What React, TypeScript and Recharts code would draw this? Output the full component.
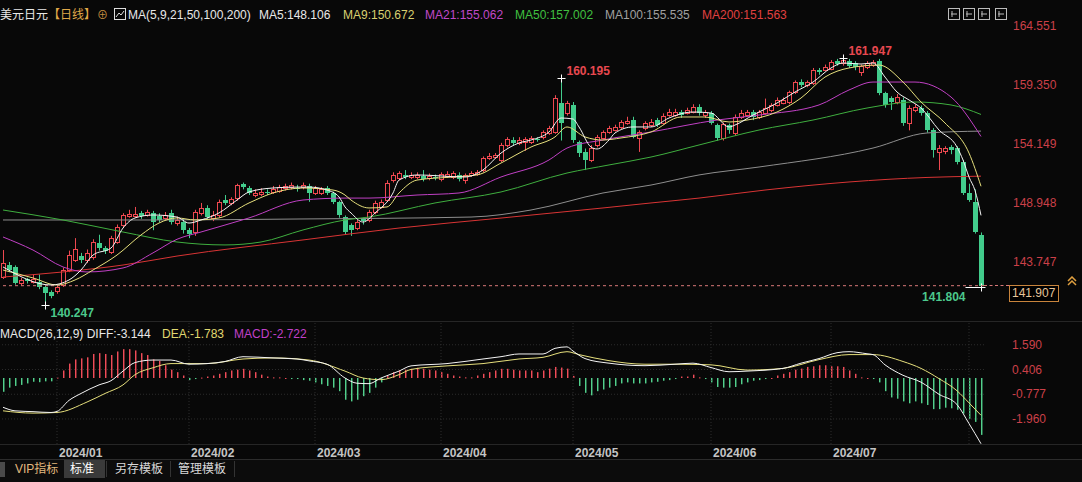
import React from 'react';
import { ComposedChart, Bar, Line, XAxis, YAxis, ReferenceLine } from 'recharts';

// USD/JPY daily candles, 2023/12/19 .. 2024/08/05 : [open, high, low, close]
const candles: number[][] = [
  [142.67, 145.05, 142.5, 143.91], [143.73, 144.0, 143.1, 143.29], [143.55, 143.7, 142.0, 142.14], [142.14, 142.6, 141.9, 142.41], [142.5, 142.6, 142.1, 142.3],
  [142.23, 142.9, 142.1, 142.5], [142.23, 142.9, 141.6, 141.8], [141.8, 141.9, 140.247, 141.26], [141.35, 141.5, 140.8, 141.0], [141.44, 141.9, 141.2, 141.8],
  [141.97, 143.5, 141.8, 143.29], [143.29, 145.0, 143.1, 144.6], [144.2, 146.1, 144.0, 145.1], [144.5, 144.8, 143.9, 144.17], [144.17, 145.1, 143.9, 144.8],
  [144.4, 146.0, 144.2, 145.76], [145.67, 146.4, 145.0, 145.23], [145.23, 145.4, 144.7, 144.97], [144.88, 146.3, 144.7, 146.1], [145.76, 147.3, 145.6, 147.08],
  [147.26, 148.3, 147.0, 148.14], [148.05, 148.6, 147.9, 148.23], [148.05, 148.85, 147.9, 148.23], [148.3, 148.5, 147.8, 148.05], [148.14, 148.6, 148.0, 148.4],
  [148.3, 148.5, 146.8, 147.52], [148.05, 148.3, 147.5, 147.7], [147.9, 148.4, 147.7, 148.14], [148.3, 148.6, 147.3, 147.52], [147.43, 148.0, 147.2, 147.7],
  [147.52, 147.8, 146.5, 146.82], [146.82, 147.0, 146.1, 146.46], [146.64, 148.6, 146.3, 148.4], [148.3, 149.2, 148.1, 148.76], [148.76, 149.0, 147.8, 147.96],
  [147.87, 148.5, 147.6, 148.14], [148.14, 149.5, 147.9, 149.28], [149.46, 149.9, 149.0, 149.2], [149.2, 149.7, 149.0, 149.55], [149.64, 150.9, 149.4, 150.78],
  [150.87, 151.0, 150.4, 150.6], [150.52, 150.7, 149.9, 150.08], [149.9, 150.4, 149.7, 150.08], [149.99, 150.5, 149.8, 150.17], [150.17, 150.4, 149.9, 150.1],
  [150.17, 150.7, 150.0, 150.43], [150.26, 150.8, 150.1, 150.6], [150.52, 150.9, 150.3, 150.7], [150.6, 151.0, 150.4, 150.78], [150.52, 150.8, 150.2, 150.5],
  [150.6, 151.0, 150.4, 150.78], [150.7, 150.9, 149.3, 150.08], [150.08, 150.7, 149.9, 150.52], [150.08, 150.6, 149.9, 150.43], [150.52, 150.7, 149.9, 150.08],
  [150.08, 150.2, 149.1, 149.28], [149.28, 149.4, 147.9, 148.14], [147.96, 148.1, 146.4, 146.64], [147.26, 147.4, 146.3, 146.82], [146.99, 147.7, 146.8, 147.52],
  [147.79, 147.9, 147.3, 147.6], [147.7, 148.6, 147.5, 148.4], [148.4, 149.4, 148.2, 149.2], [148.85, 149.5, 148.7, 149.28], [149.46, 151.2, 149.3, 150.96],
  [151.2, 151.9, 151.0, 151.66], [151.4, 152.0, 151.2, 151.84], [151.66, 152.1, 151.3, 151.5], [151.5, 151.9, 151.3, 151.66], [151.5, 151.9, 151.3, 151.66],
  [151.57, 152.1, 151.1, 151.3], [151.4, 151.8, 151.2, 151.57], [151.5, 151.7, 151.2, 151.48], [151.3, 151.9, 151.1, 151.75], [151.57, 152.0, 151.4, 151.75],
  [151.5, 152.0, 151.3, 151.84], [151.66, 151.9, 151.1, 151.3], [151.2, 151.8, 150.9, 151.66], [151.66, 152.0, 151.5, 151.84], [151.75, 152.1, 151.6, 151.93],
  [152.1, 153.3, 151.9, 153.16], [153.16, 153.6, 153.0, 153.34], [153.25, 153.6, 153.1, 153.43], [152.99, 154.5, 152.8, 154.31], [154.31, 155.0, 154.1, 154.84],
  [154.75, 155.0, 154.3, 154.49], [154.49, 155.0, 154.3, 154.75], [154.57, 155.0, 153.8, 154.84], [154.57, 155.1, 154.4, 154.93], [154.84, 155.0, 154.6, 154.75],
  [155.02, 155.6, 154.8, 155.46], [155.37, 156.0, 155.2, 155.81], [155.46, 158.7, 155.3, 158.45], [158.0, 160.195, 154.7, 156.25], [157.13, 158.2, 156.9, 158.0],
  [157.8, 158.1, 154.5, 154.75], [154.57, 154.7, 153.25, 153.6], [153.69, 154.0, 152.1, 152.99], [152.99, 154.3, 152.8, 154.04], [154.3, 155.2, 154.1, 155.0],
  [154.93, 155.6, 154.8, 155.46], [155.46, 156.0, 155.3, 155.81], [155.63, 156.1, 155.5, 155.9], [155.9, 156.5, 155.7, 156.34], [156.25, 156.8, 156.1, 156.43],
  [156.51, 156.8, 154.9, 155.02], [154.93, 155.6, 153.7, 155.46], [155.81, 156.4, 155.6, 156.25], [156.07, 156.6, 155.9, 156.34], [156.51, 156.7, 155.9, 156.07],
  [156.25, 157.1, 156.1, 156.87], [156.95, 157.5, 156.8, 157.22], [156.95, 157.5, 156.8, 157.22], [157.22, 157.4, 156.7, 156.95], [157.13, 157.6, 157.0, 157.4],
  [157.22, 157.9, 157.1, 157.66], [157.66, 157.9, 156.9, 157.13], [156.95, 157.4, 156.7, 157.22], [157.13, 157.3, 156.1, 156.25], [156.07, 156.2, 154.7, 154.93],
  [154.93, 156.3, 154.7, 156.16], [156.07, 156.2, 155.3, 155.63], [155.37, 157.0, 155.1, 156.78], [156.78, 157.4, 156.6, 157.13], [156.95, 157.4, 156.8, 157.22],
  [157.22, 157.4, 156.5, 156.78], [156.78, 157.4, 156.6, 157.22], [157.13, 158.4, 157.0, 157.57], [157.4, 158.0, 157.2, 157.84], [157.84, 158.5, 157.7, 158.28],
  [158.01, 158.5, 157.9, 158.28], [158.1, 159.1, 157.9, 158.98], [158.98, 160.0, 158.8, 159.86], [159.86, 160.1, 159.4, 159.6], [159.6, 160.0, 159.4, 159.86],
  [159.77, 161.1, 159.6, 160.92], [160.92, 161.1, 160.5, 160.74], [160.92, 161.4, 160.8, 161.19], [161.01, 161.8, 160.9, 161.63], [161.72, 161.9, 161.3, 161.45],
  [161.54, 161.947, 161.3, 161.8], [161.72, 161.9, 161.1, 161.27], [161.54, 161.7, 160.9, 161.19], [160.74, 161.4, 160.4, 161.27], [161.19, 161.7, 161.0, 161.54],
  [161.36, 161.8, 161.2, 161.63], [161.72, 161.9, 158.7, 158.89], [158.89, 159.0, 157.6, 157.84], [158.45, 158.6, 157.4, 158.1], [158.1, 158.8, 157.9, 158.54],
  [158.28, 158.5, 156.0, 156.25], [156.25, 157.8, 155.6, 157.57], [157.4, 157.9, 157.2, 157.66], [157.57, 157.8, 156.9, 157.13], [157.13, 157.3, 155.4, 155.63],
  [155.63, 155.8, 153.2, 153.87], [153.69, 154.3, 152.1, 154.04], [153.78, 154.2, 153.5, 154.04], [154.1, 154.3, 153.5, 153.87], [154.04, 154.2, 152.6, 152.81],
  [152.81, 153.0, 149.9, 150.08], [150.08, 150.9, 149.3, 149.46], [149.28, 150.4, 146.5, 146.64], [146.38, 146.6, 141.804, 141.907],
];

// moving averages: [candle index, value]
const ma5Pts = [[0, 143.56], [8, 141.97], [11, 142.41], [13, 143.29], [15, 144.61], [18, 145.23], [20, 146.99], [22, 147.88], [25, 148.14], [29, 147.96], [31, 147.43], [33, 147.7], [36, 148.32], [39, 149.46], [41, 150.17], [45, 150.52], [49, 150.6], [51, 150.6], [54, 150.34], [56, 149.73], [57, 148.85], [58, 148.32], [60, 147.52], [62, 148.32], [65, 150.08], [66, 151.22], [69, 151.67], [77, 151.49], [80, 152.11], [83, 153.6], [86, 154.49], [88, 154.75], [91, 155.46], [93, 156.69], [95, 156.6], [96, 155.9], [98, 154.13], [99, 153.96], [101, 154.75], [102, 155.37], [105, 155.9], [108, 155.9], [111, 156.69], [115, 157.22], [118, 157.13], [121, 155.9], [122, 156.07], [125, 156.95], [129, 158.01], [132, 158.98], [135, 159.86], [138, 161.1], [140, 161.54], [143, 161.45], [145, 161.54], [147, 160.3], [149, 158.98], [151, 158.28], [153, 157.57], [156, 155.63], [159, 154.13], [160, 152.99], [161, 151.49], [162, 150.3], [163, 148.106]];
const ma9Pts = [[0, 143.29], [5, 142.59], [9, 141.97], [12, 142.41], [15, 143.29], [19, 144.61], [23, 146.38], [26, 147.43], [29, 147.88], [32, 147.7], [36, 147.88], [41, 149.2], [45, 150.08], [50, 150.52], [55, 150.34], [57, 149.9], [58, 149.46], [61, 148.76], [64, 148.85], [66, 150.08], [69, 151.22], [75, 151.49], [79, 151.67], [83, 152.72], [88, 154.13], [92, 155.02], [94, 155.9], [97, 155.02], [100, 154.75], [103, 154.93], [108, 155.46], [113, 156.78], [117, 156.78], [121, 156.34], [124, 156.51], [129, 157.22], [133, 158.45], [137, 160.3], [141, 161.1], [146, 161.36], [150, 159.86], [153, 158.1], [157, 156.25], [161, 153.6], [163, 150.672]];
const ma21Pts = [[0, 146.2], [5, 145.05], [10, 143.56], [14, 143.12], [20, 143.47], [25, 144.8], [29, 146.0], [33, 146.64], [41, 147.88], [50, 149.46], [57, 149.63], [61, 149.63], [69, 149.9], [76, 150.08], [83, 151.49], [91, 152.99], [94, 154.04], [100, 154.75], [108, 155.46], [119, 156.51], [126, 156.95], [136, 157.84], [141, 159.16], [145, 159.86], [152, 159.86], [158, 158.54], [163, 155.062]];
const ma50Pts = [[0, 148.58], [10, 147.7], [20, 146.64], [29, 145.76], [37, 145.5], [43, 145.76], [50, 146.82], [57, 147.7], [61, 147.96], [72, 149.2], [83, 150.17], [94, 151.84], [101, 152.55], [108, 153.25], [116, 154.31], [126, 155.63], [135, 156.51], [144, 157.57], [152, 158.1], [158, 157.84], [163, 157.002]];
const ma100Pts = [[0, 147.7], [25, 147.7], [50, 147.79], [78, 147.96], [88, 148.58], [100, 150.08], [108, 150.78], [116, 151.67], [126, 152.37], [145, 154.04], [154, 155.37], [163, 155.535]];
const ma200Pts = [[0, 142.67], [10, 143.12], [20, 143.73], [29, 144.52], [50, 145.94], [66, 146.99], [83, 147.87], [100, 148.76], [108, 149.2], [116, 149.63], [127, 150.34], [141, 151.05], [154, 151.45], [163, 151.563]];

// MACD(26,12,9)
const macdHist = [
  -0.66, -0.46, -0.38, -0.33, -0.26, -0.18, -0.2, -0.16, -0.16, 0.02,
  0.36, 0.69, 0.89, 0.94, 0.99, 1.15, 1.19, 1.15, 1.1, 1.27,
  1.38, 1.38, 1.32, 1.19, 1.1, 0.89, 0.82, 0.61, 0.4, 0.28,
  0.12, -0.1, -0.05, 0.02, 0.07, 0.12, 0.2, 0.28, 0.36, 0.4,
  0.44, 0.36, 0.28, 0.16, 0.07, 0.03, 0.03, 0.0, -0.05, -0.05,
  -0.1, -0.13, -0.21, -0.3, -0.38, -0.46, -0.63, -1.04, -1.12, -1.04,
  -0.87, -0.71, -0.46, -0.21, 0.12, 0.28, 0.36, 0.4, 0.44, 0.49,
  0.44, 0.4, 0.36, 0.28, 0.2, 0.12, 0.07, 0.03, 0.03, 0.12,
  0.2, 0.28, 0.36, 0.44, 0.44, 0.4, 0.36, 0.36, 0.36, 0.28,
  0.36, 0.45, 0.53, 0.5, 0.45, 0.1, -0.38, -0.71, -0.83, -0.63,
  -0.55, -0.46, -0.38, -0.26, -0.21, -0.26, -0.26, -0.26, -0.21, -0.18,
  -0.13, -0.1, -0.05, 0.07, 0.07, 0.16, 0.03, -0.05, -0.21, -0.43,
  -0.46, -0.46, -0.43, -0.3, -0.21, -0.13, -0.1, -0.05, 0.0, 0.12,
  0.2, 0.28, 0.4, 0.45, 0.53, 0.56, 0.61, 0.61, 0.56, 0.56,
  0.53, 0.36, 0.2, 0.03, 0.0, -0.05, -0.21, -0.63, -0.93, -0.99,
  -1.12, -1.21, -1.12, -1.21, -1.29, -1.49, -1.49, -1.42, -1.45, -1.52,
  -1.7, -1.95, -2.1, -2.722,
];
const diffPts = [[0, -1.4], [2, -1.57], [5, -1.61], [8, -1.65], [9, -1.6], [11, -1.07], [13, -0.74], [16, -0.33], [18, -0.13], [20, 0.33], [22, 0.74], [25, 0.86], [28, 0.86], [31, 0.66], [34, 0.69], [37, 0.79], [40, 1.02], [45, 0.96], [49, 0.91], [51, 0.82], [54, 0.66], [57, 0.0], [59, -0.25], [61, -0.27], [63, 0.0], [66, 0.33], [68, 0.58], [74, 0.69], [80, 0.91], [83, 1.02], [86, 1.15], [90, 1.15], [92, 1.42], [94, 1.49], [95, 1.29], [97, 0.93], [101, 0.71], [107, 0.59], [112, 0.66], [115, 0.71], [118, 0.5], [121, 0.3], [124, 0.33], [130, 0.46], [133, 0.71], [136, 0.93], [139, 1.21], [141, 1.26], [144, 1.16], [145, 1.12], [147, 0.63], [150, 0.13], [153, -0.2], [156, -0.78], [159, -1.27], [161, -2.18], [163, -3.144]];
const deaPts = [[0, -1.57], [5, -1.68], [9, -1.65], [14, -1.15], [17, -0.74], [20, -0.33], [22, 0.16], [25, 0.49], [28, 0.69], [34, 0.69], [40, 0.91], [45, 0.96], [51, 0.86], [57, 0.33], [60, 0.0], [63, -0.08], [66, 0.16], [68, 0.41], [74, 0.58], [80, 0.69], [86, 0.91], [90, 0.99], [94, 1.26], [96, 1.12], [101, 0.83], [107, 0.66], [112, 0.66], [118, 0.63], [124, 0.38], [130, 0.46], [136, 0.88], [141, 1.12], [145, 1.12], [150, 0.79], [153, 0.46], [156, -0.03], [159, -0.61], [161, -1.19], [163, -1.783]];

// marked extremes
const extremes = [
  { i: 7, kind: 'low', value: 140.247 },
  { i: 93, kind: 'high', value: 160.195 },
  { i: 140, kind: 'high', value: 161.947 },
  { i: 163, kind: 'low', value: 141.804 },
];

const monthIdx = [9, 31, 52, 73, 95, 118, 138];
const monthLabels = ['2024/01', '2024/02', '2024/03', '2024/04', '2024/05', '2024/06', '2024/07'];
const monthGrid = [9, 31, 52, 73, 95, 118, 138, 161];

const priceTicks = [164.551, 159.35, 154.149, 148.948, 143.747];
const macdTicks = [1.59, 0.406, -0.777, -1.96];
const lastPrice = 141.907;

const FONT = '"Liberation Sans", Arial, "Noto Sans CJK SC", sans-serif';
const BG = '#080808';
const UP = '#ee4850';
const DOWN = '#42cc8c';
const HIST_UP = '#f04c58';
const HIST_DOWN = '#52d08c';
const AXIS_TXT = '#cc4048';

const toMap = (pts: number[][]) => new Map(pts.map(([k, v]) => [k, v] as [number, number]));
const m5 = toMap(ma5Pts), m9 = toMap(ma9Pts), m21 = toMap(ma21Pts), m50 = toMap(ma50Pts), m100 = toMap(ma100Pts), m200 = toMap(ma200Pts);
const mDiff = toMap(diffPts), mDea = toMap(deaPts);

const rows = candles.map(([o, h, l, c], i) => ({
  i, o, h, l, c,
  ma5: m5.get(i) ?? null,
  ma9: m9.get(i) ?? null,
  ma21: m21.get(i) ?? null,
  ma50: m50.get(i) ?? null,
  ma100: m100.get(i) ?? null,
  ma200: m200.get(i) ?? null,
  hist: macdHist[i],
  diff: mDiff.get(i) ?? null,
  dea: mDea.get(i) ?? null,
  note: extremes.find((e) => e.i === i) ?? null,
}));

const lastOf = (pts: number[][]) => pts[pts.length - 1][1].toFixed(3);

function Candle(props: any) {
  const { x, y, width, height, payload } = props;
  if (x == null || y == null || !payload) return null;
  const { o, h, l, c, note } = payload;
  const cx = Math.floor(x + width / 2) + 0.5;
  const k = h > l ? height / (h - l) : 0;
  const py = (v: number) => y + (h - v) * k;
  const up = c >= o;
  const yh = py(h), yl = py(l);
  const t = Math.round(py(Math.max(o, c)));
  const b = Math.max(Math.round(py(Math.min(o, c))), t + 1);
  const parts: any[] = [];
  if (up) {
    parts.push(<line key="w1" x1={cx} x2={cx} y1={yh} y2={t + 0.5} stroke={UP} />);
    parts.push(<line key="w2" x1={cx} x2={cx} y1={b + 0.5} y2={yl} stroke={UP} />);
    parts.push(<rect key="b" x={cx - 2} y={t + 0.5} width={4} height={b - t} fill={BG} stroke={UP} />);
  } else {
    parts.push(<line key="w" x1={cx} x2={cx} y1={yh} y2={yl} stroke={DOWN} />);
    parts.push(<rect key="b" x={cx - 2.5} y={t} width={5} height={Math.max(b - t, 1)} fill={DOWN} />);
  }
  if (note) {
    const ny = Math.round(py(note.value)) + 0.5;
    const high = note.kind === 'high';
    const atEnd = payload.i > rows.length - 10;
    parts.push(<line key="n1" x1={atEnd ? cx - 16 : cx - 4} x2={cx + 4} y1={ny} y2={ny} stroke="#fff" />);
    parts.push(<line key="n2" x1={cx} x2={cx} y1={ny - 4} y2={ny + 4} stroke="#fff" />);
    parts.push(
      <text key="nt" x={atEnd ? cx - 16 : cx + 5} y={high ? ny - 4 : ny + (atEnd ? 13 : 11)}
        textAnchor={atEnd ? 'end' : 'start'} fill={high ? '#e84850' : '#4cc88c'}
        fontSize={12} fontWeight="bold" fontFamily={FONT}>{note.value.toFixed(3)}</text>
    );
  }
  return <g>{parts}</g>;
}

function HistBar(props: any) {
  const { x, y, width, height, payload, value } = props;
  if (x == null || y == null) return null;
  const v = typeof payload?.hist === 'number' ? payload.hist : Number(value);
  const px = Math.floor(x + width / 2);
  const y1 = Math.min(y, y + height);
  const hh = Math.max(Math.abs(height), 1);
  const col = v >= 0 ? HIST_UP : HIST_DOWN;
  return (
    <g>
      <rect x={px} y={y1} width={1} height={hh} fill={col} />
      <rect x={px + 1} y={y1} width={1} height={hh} fill={col} fillOpacity={0.45} />
    </g>
  );
}

const PriceTick = (p: any) => (
  <text x={1013} y={p.y + 1} fill={AXIS_TXT} fontSize={12} fontFamily={FONT}>{Number(p.payload.value).toFixed(3)}</text>
);
const MacdTick = (p: any) => (
  <text x={1012} y={p.y + 4} fill={AXIS_TXT} fontSize={12} fontFamily={FONT}>{Number(p.payload.value).toFixed(3)}</text>
);
const MonthTick = (p: any) => (
  <text x={p.x + 2} y={135} fill="#c4c4c4" fontSize={12} fontWeight="bold" fontFamily={FONT}>
    {monthLabels[monthIdx.indexOf(p.payload.value)]}
  </text>
);

const maLine = (key: string, color: string) => (
  <Line key={key} dataKey={key} type="monotone" stroke={color} strokeWidth={1} dot={false}
    connectNulls isAnimationActive={false} activeDot={false} />
);

const txt = (left: number, top: number, color: string, s: string, extra: any = {}) => (
  <span style={{ position: 'absolute', left, top, color, fontSize: 12, lineHeight: '16px', whiteSpace: 'nowrap', ...extra }}>{s}</span>
);

export default function App() {
  return (
    <div style={{ position: 'fixed', left: 0, top: 0, width: 1082, height: 482, background: BG, overflow: 'hidden', fontFamily: FONT }}>
      <div style={{ position: 'absolute', left: 0, top: 0 }}>
        <ComposedChart width={1082} height={322} data={rows} margin={{ top: 0, right: 0, bottom: 0, left: 0 }}>
          <XAxis dataKey="i" hide />
          <YAxis orientation="right" width={98} domain={[138.707, 167.092]} ticks={priceTicks} allowDataOverflow
            axisLine={false} tickLine={false} tick={PriceTick} />
          <ReferenceLine y={lastPrice} stroke="#d87878" strokeDasharray="3 3" />
          <Bar dataKey={(d: any) => [d.l, d.h]} barSize={5} shape={(p: any) => <Candle {...p} />} isAnimationActive={false} />
          {maLine('ma200', '#d83434')}
          {maLine('ma100', '#8e8e8e')}
          {maLine('ma50', '#3fae3f')}
          {maLine('ma21', '#c040c4')}
          {maLine('ma9', '#e6df7c')}
          {maLine('ma5', '#f4f4f4')}
        </ComposedChart>
      </div>

      <div style={{ position: 'absolute', left: 0, top: 322 }}>
        <ComposedChart width={1082} height={140} data={rows} margin={{ top: 0, right: 0, bottom: 0, left: 0 }}>
          <XAxis dataKey="i" ticks={monthIdx} interval={0} height={18} axisLine={false} tickLine={false} tick={MonthTick} />
          <YAxis orientation="right" width={98} domain={[-3.158, 2.68]} ticks={macdTicks} allowDataOverflow
            axisLine={false} tickLine={false} tick={MacdTick} />
          {macdTicks.map((t) => <ReferenceLine key={'h' + t} y={t} stroke="#2c2c2c" strokeDasharray="1 2" />)}
          {monthGrid.map((m) => <ReferenceLine key={'v' + m} x={m} stroke="#2c2c2c" strokeDasharray="1 2" />)}
          <Bar dataKey="hist" barSize={1} fill={HIST_UP} shape={(p: any) => <HistBar {...p} />} isAnimationActive={false} />
          <Line dataKey="dea" type="monotone" stroke="#e6df7c" strokeWidth={1} dot={false} connectNulls isAnimationActive={false} activeDot={false} />
          <Line dataKey="diff" type="monotone" stroke="#f4f4f4" strokeWidth={1} dot={false} connectNulls isAnimationActive={false} activeDot={false} />
        </ComposedChart>
      </div>

      {/* separators */}
      <div style={{ position: 'absolute', left: 0, top: 321, width: 1082, height: 1, background: '#262626' }} />
      <div style={{ position: 'absolute', left: 0, top: 444, width: 1082, height: 1, background: '#262626' }} />
      <div style={{ position: 'absolute', left: 0, top: 459, width: 1082, height: 23, background: '#0c0c0c', borderTop: '1px solid #2c2c2c' }} />

      {/* header legend */}
      {txt(0, 7, '#e8e8e8', '美元日元')}
      {txt(48, 7, '#e0a848', '【日线】')}
      {txt(97, 7, '#c89040', '⊕', { fontSize: 11 })}
      <svg style={{ position: 'absolute', left: 114, top: 8 }} width={12} height={12}>
        <rect x={0.5} y={0.5} width={11} height={11} fill="none" stroke="#ddd" />
        <polyline points="2,9 5,5 7,7 10,3" fill="none" stroke="#ddd" />
      </svg>
      {txt(128, 7, '#e8e8e8', 'MA(5,9,21,50,100,200)')}
      {txt(259, 7, '#e8e8e8', 'MA5:' + lastOf(ma5Pts))}
      {txt(343, 7, '#d8d070', 'MA9:' + lastOf(ma9Pts))}
      {txt(425, 7, '#c048c8', 'MA21:' + lastOf(ma21Pts))}
      {txt(515, 7, '#40c040', 'MA50:' + lastOf(ma50Pts))}
      {txt(605, 7, '#a0a0a0', 'MA100:' + lastOf(ma100Pts))}
      {txt(702, 7, '#e04040', 'MA200:' + lastOf(ma200Pts))}
      {[948, 963, 978, 995].map((x) => (
        <svg key={x} style={{ position: 'absolute', left: x, top: 8 }} width={12} height={12}>
          <rect x={0.5} y={0.5} width={11} height={11} fill="none" stroke="#bbb" />
          <line x1={3} x2={9} y1={6} y2={6} stroke="#bbb" />
          <line x1={4} x2={4} y1={3} y2={9} stroke="#bbb" />
        </svg>
      ))}

      {/* last price box */}
      <div style={{ position: 'absolute', left: 984, top: 285, width: 25, height: 0, borderTop: '1px dashed #d87878' }} />
      <div style={{ position: 'absolute', left: 1009, top: 285, width: 46, height: 15, border: '1px solid #c8843c', background: '#000',
        color: '#e4c49a', fontSize: 12, lineHeight: '15px', paddingLeft: 2 }}>{lastPrice.toFixed(3)}</div>
      <svg style={{ position: 'absolute', left: 1066, top: 276 }} width={12} height={10}>
        <polyline points="2,5 6,1 10,5" fill="none" stroke="#e0a040" strokeWidth={1.5} />
        <polyline points="2,9 6,5 10,9" fill="none" stroke="#e0a040" strokeWidth={1.5} />
      </svg>

      {/* MACD legend */}
      {txt(0, 326, '#e8e8e8', 'MACD(26,12,9) DIFF:' + lastOf(diffPts))}
      {txt(162, 326, '#e0d870', 'DEA:' + lastOf(deaPts))}
      {txt(234, 326, '#c040c8', 'MACD:' + macdHist[macdHist.length - 1].toFixed(3))}

      {/* bottom tabs */}
      <div style={{ position: 'absolute', left: 0, top: 462, width: 5, height: 15, background: '#4a4a4a' }} />
      {txt(15, 461, '#e2b97f', 'VIP指标')}
      <div style={{ position: 'absolute', left: 64, top: 460, width: 41, height: 18, background: '#3a3a3a' }} />
      {txt(70, 461, '#ffffff', '标准')}
      {[106, 170, 234].map((x) => (
        <div key={x} style={{ position: 'absolute', left: x, top: 461, width: 1, height: 16, background: '#333' }} />
      ))}
      {txt(115, 461, '#d8d8d8', '另存模板')}
      {txt(178, 461, '#d8d8d8', '管理模板')}
    </div>
  );
}
